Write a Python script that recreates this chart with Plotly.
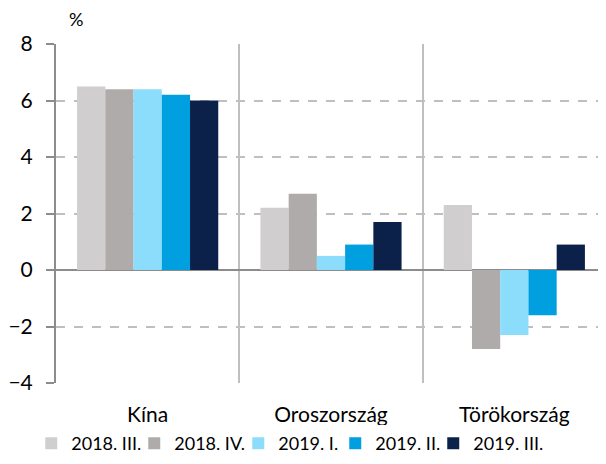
import plotly.graph_objects as go

categories = ["Kína", "Oroszország", "Törökország"]
series_names = ["2018. III.", "2018. IV.", "2019. I.", "2019. II.", "2019. III."]
values = {
    "2018. III.": [6.5, 2.2, 2.3],
    "2018. IV.": [6.4, 2.7, -2.8],
    "2019. I.": [6.4, 0.5, -2.3],
    "2019. II.": [6.2, 0.9, -1.6],
    "2019. III.": [6.0, 1.7, 0.9],
}
colors = ["#D0CECF", "#AFABAA", "#8CDCFC", "#009FE0", "#0C2149"]
legend_widths = [58, 59, 52, 53, 70]
y_ticks = [-4, -2, 0, 2, 4, 6, 8]

font_family = "Lato, Open Sans, sans-serif"

fig = go.Figure()
for name, c, lw in zip(series_names, colors, legend_widths):
    fig.add_trace(go.Bar(
        x=categories, y=values[name], name=name, legendwidth=lw,
        marker=dict(color=c, line=dict(width=0)),
    ))

fig.update_layout(
    width=598, height=456,
    margin=dict(l=48, r=0, t=36, b=81, autoexpand=False),
    paper_bgcolor="white", plot_bgcolor="white",
    barmode="group", bargap=0.23, bargroupgap=0,
    font=dict(family=font_family, size=21, color="#000000"),
    showlegend=True,
    legend=dict(orientation="h", x=-0.045, xanchor="left", y=-0.124, yanchor="top",
                font=dict(size=18), itemwidth=30, tracegroupgap=0),
    xaxis=dict(
        automargin=False,
        tickson="boundaries", showgrid=True, gridcolor="#BFBFBF", gridwidth=2,
        ticks="", showline=False, ticklabelstandoff=17, zeroline=False,
    ),
    yaxis=dict(
        automargin=False,
        range=[-4, 8], tickvals=y_ticks, showgrid=True, gridcolor="#BFBFBF",
        griddash="dash", gridwidth=1.5,
        zeroline=True, zerolinecolor="#8C8C8C", zerolinewidth=2,
        showline=True, linecolor="#8C8C8C", linewidth=2,
        ticks="outside", ticklen=8, tickcolor="#8C8C8C", tickwidth=2,
        ticklabelstandoff=9,
    ),
    annotations=[dict(text="%", xref="paper", yref="paper", x=0.02, y=1.0,
                      xanchor="left", yanchor="bottom", yshift=12, showarrow=False,
                      font=dict(size=18))],
)

fig.write_html("out.html")
